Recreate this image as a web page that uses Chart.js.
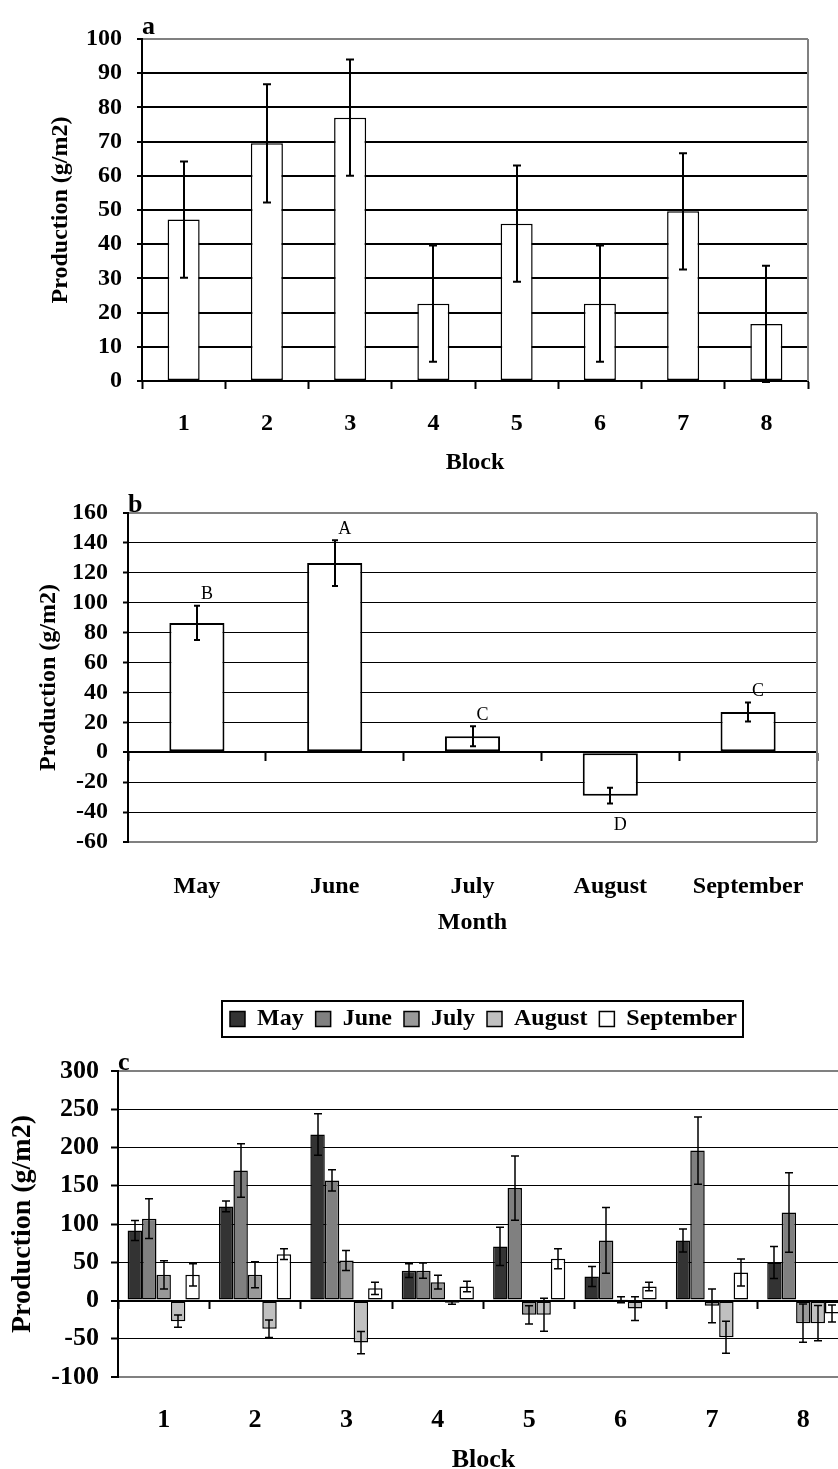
<!DOCTYPE html>
<html>
<head>
<meta charset="utf-8">
<script src="https://cdn.jsdelivr.net/npm/chart.js@4.4.1/dist/chart.umd.min.js"></script>
<style>
  html, body { margin: 0; padding: 0; background: #fff; }
  body { width: 838px; height: 1469px; overflow: hidden; position: relative; }
  canvas { position: absolute; left: 0; }
  #chartA { top: 0; }
  #chartB { top: 480px; }
  #chartC { top: 960px; }
</style>
</head>
<body>
<canvas id="chartA" width="838" height="480"></canvas>
<canvas id="chartB" width="838" height="460"></canvas>
<canvas id="chartC" width="880" height="520"></canvas>
<script>
// ---- Panel a: production per block ----
const blocks = ['1', '2', '3', '4', '5', '6', '7', '8'];
const blockMeans = [47.2, 69.5, 77, 22.6, 46, 22.6, 49.6, 16.7];
const blockErrors = [17, 17.3, 17, 17, 17, 17, 17, 17];
const ticksA = [0, 10, 20, 30, 40, 50, 60, 70, 80, 90, 100];

// ---- Panel b: production per month ----
const months = ['May', 'June', 'July', 'August', 'September'];
const monthMeans = [86.5, 126.5, 10.7, -29, 26.9];
const monthErrors = [11.5, 15.3, 6.7, 5.3, 6.4];
const monthGroups = ['B', 'A', 'C', 'D', 'C'];
const ticksB = [-60, -40, -20, 0, 20, 40, 60, 80, 100, 120, 140, 160];

// ---- Panel c: production per block and month ----
const mayValues = [91.5, 123, 217, 39, 70.6, 31.4, 78.5, 49.7];
const mayErrors = [13, 7, 27, 9, 25, 13, 15, 21];
const juneValues = [107, 170, 157, 39, 147, 78.5, 196, 115];
const juneErrors = [26, 35, 14, 10, 42, 43, 44, 52];
const julyValues = [33.6, 33.6, 52.3, 24, -18.7, 1, -7, -29.6];
const julyErrors = [18.5, 17, 13, 9, 12, 4, 22, 25];
const augustValues = [-27, -37, -55, -3, -18.7, -10.5, -48, -29.6];
const augustErrors = [8, 11.5, 14.5, 2, 21.5, 15.5, 21, 23];
const septemberValues = [33.6, 60.6, 16, 18.3, 54.5, 18.3, 36.6, -17];
const septemberErrors = [14.6, 7, 8, 7, 13, 5.5, 17.5, 11];
const ticksC = [-100, -50, 0, 50, 100, 150, 200, 250, 300];

const FONT = "'Liberation Serif', 'Times New Roman', serif";
const GRAY = '#808080';
Chart.defaults.font.family = FONT;
Chart.defaults.color = '#000';

const boldFont = (size, lineHeight) => ({ family: FONT, size, weight: 'bold', lineHeight: lineHeight || 1.2 });
const useTicks = list => scale => { scale.ticks = list.map(v => ({ value: v })); };

// vertical error bars with caps, centred on every bar
const errorBars = {
  id: 'errorBars',
  afterDatasetsDraw(chart, args, opts) {
    const { ctx } = chart;
    const yScale = chart.scales.y;
    ctx.save();
    ctx.strokeStyle = '#000';
    ctx.lineWidth = opts.lineWidth;
    chart.data.datasets.forEach((ds, i) => {
      chart.getDatasetMeta(i).data.forEach((bar, j) => {
        const v = ds.data[j], e = ds.errors[j];
        const x = Math.round(bar.x);
        const yHi = yScale.getPixelForValue(v + e);
        const yLo = yScale.getPixelForValue(v - e);
        ctx.beginPath();
        ctx.moveTo(x, yHi); ctx.lineTo(x, yLo);
        ctx.moveTo(x - opts.cap, yHi); ctx.lineTo(x + opts.cap, yHi);
        ctx.moveTo(x - opts.cap, yLo); ctx.lineTo(x + opts.cap, yLo);
        ctx.stroke();
      });
    });
    ctx.restore();
  }
};

// grey right-hand edge of the plot area
const plotFrame = {
  id: 'plotFrame',
  beforeDatasetsDraw(chart) {
    const { ctx, chartArea: a } = chart;
    ctx.save();
    ctx.strokeStyle = GRAY;
    ctx.lineWidth = 2;
    ctx.beginPath();
    ctx.moveTo(a.right, a.top);
    ctx.lineTo(a.right, a.bottom);
    ctx.stroke();
    ctx.restore();
  }
};

// significance letters next to each monthly error bar
const groupLetters = {
  id: 'groupLetters',
  afterDatasetsDraw(chart, args, opts) {
    const { ctx } = chart;
    const yScale = chart.scales.y;
    const ds = chart.data.datasets[0];
    ctx.save();
    ctx.font = `18px ${FONT}`;
    ctx.fillStyle = '#000';
    ctx.textAlign = 'center';
    ctx.textBaseline = 'middle';
    chart.getDatasetMeta(0).data.forEach((bar, j) => {
      const v = ds.data[j], e = ds.errors[j];
      const y = v >= 0 ? yScale.getPixelForValue(v + e) - opts.above
                       : yScale.getPixelForValue(v - e) + opts.below;
      ctx.fillText(opts.letters[j], bar.x + opts.dx, y);
    });
    ctx.restore();
  }
};

// black frame around the legend entries
const legendFrame = {
  id: 'legendFrame',
  afterDraw(chart) {
    const lg = chart.legend;
    if (!lg || !lg.legendHitBoxes || !lg.legendHitBoxes.length) return;
    const hb = lg.legendHitBoxes;
    const left = Math.min(...hb.map(b => b.left));
    const right = Math.max(...hb.map(b => b.left + b.width));
    const top = hb[0].top, h = hb[0].height;
    const { ctx } = chart;
    ctx.save();
    ctx.strokeStyle = '#000';
    ctx.lineWidth = 2;
    ctx.strokeRect(Math.round(left - 8), Math.round(top - 6), Math.round(right - left + 14), Math.round(h + 12));
    ctx.restore();
  }
};

function panelTitle(text, pad, weight) {
  return {
    display: true, text, align: 'start', fullSize: false, weight: weight || 2000,
    color: '#000', font: boldFont(26, '16px'), padding: pad
  };
}

function zeroAxis(labels, tickLength) {
  return {
    axis: 'x', type: 'category', labels, position: { y: 0 }, offset: true,
    grid: { offset: true, drawOnChartArea: false, drawTicks: true, tickLength, tickWidth: 2, tickColor: '#000' },
    ticks: { display: false, autoSkip: false },
    border: { display: true, color: '#000', width: 2 }
  };
}

// ---------- Panel a ----------
new Chart(document.getElementById('chartA'), {
  type: 'bar',
  data: {
    labels: blocks,
    datasets: [{
      data: blockMeans, errors: blockErrors,
      backgroundColor: '#fff', borderColor: '#000', borderWidth: 1.5, borderSkipped: false,
      categoryPercentage: 1, barPercentage: 0.385
    }]
  },
  options: {
    responsive: false, animation: false, devicePixelRatio: 1,
    layout: { padding: { top: 19, right: 30, left: 0, bottom: 0 } },
    plugins: {
      legend: { display: false }, tooltip: { enabled: false },
      title: panelTitle('a', { top: 0, bottom: 4 }),
      errorBars: { lineWidth: 2, cap: 4 }
    },
    scales: {
      x: {
        offset: true,
        grid: { offset: true, drawOnChartArea: false, drawTicks: true, tickLength: 8, tickWidth: 2, tickColor: '#000' },
        border: { color: '#000', width: 2 },
        ticks: { font: boldFont(24), color: '#000', padding: 20.6, autoSkip: false },
        title: { display: true, text: 'Block', font: boldFont(24), color: '#000', padding: { top: 0, bottom: 2.6 } },
        afterFit: s => { s.height = 99; }
      },
      y: {
        min: 0, max: 100,
        afterBuildTicks: useTicks(ticksA),
        grid: {
          color: c => (c.tick && c.tick.value === 100 ? GRAY : '#000'),
          lineWidth: 2, tickLength: 5, tickWidth: 2, tickColor: '#000'
        },
        border: { color: '#000', width: 2 },
        ticks: { font: boldFont(24), color: '#000', padding: 15, autoSkip: false },
        title: { display: true, text: 'Production (g/m2)', font: boldFont(24), color: '#000', padding: { top: 46.6, bottom: 0 } },
        afterFit: s => { s.width = 142; }
      }
    }
  },
  plugins: [plotFrame, errorBars]
});

// ---------- Panel b ----------
new Chart(document.getElementById('chartB'), {
  type: 'bar',
  data: {
    labels: months,
    datasets: [{
      data: monthMeans, errors: monthErrors,
      backgroundColor: '#fff', borderColor: '#000', borderWidth: 2, borderSkipped: false,
      categoryPercentage: 1, barPercentage: 0.4
    }]
  },
  options: {
    responsive: false, animation: false, devicePixelRatio: 1,
    layout: { padding: { top: 17, right: 21, left: 0, bottom: 0 } },
    plugins: {
      legend: { display: false }, tooltip: { enabled: false },
      title: panelTitle('b', { top: 0, bottom: 0 }),
      errorBars: { lineWidth: 2, cap: 3 },
      groupLetters: { letters: monthGroups, dx: 10, above: 11, below: 22 }
    },
    scales: {
      x: {
        offset: true,
        grid: { display: false },
        border: { display: false },
        ticks: { font: boldFont(24), color: '#000', padding: 22.6, autoSkip: false },
        title: { display: true, text: 'Month', font: boldFont(24), color: '#000', padding: { top: 0, bottom: 2.6 } },
        afterFit: s => { s.height = 98; }
      },
      x2: zeroAxis(months, 8),
      y: {
        min: -60, max: 160,
        afterBuildTicks: useTicks(ticksB),
        grid: {
          color: c => (c.tick && (c.tick.value === 160 || c.tick.value === -60) ? GRAY : '#000'),
          lineWidth: c => (c.tick && [160, -60, 0].includes(c.tick.value) ? 2 : 1),
          tickLength: 5, tickWidth: 2, tickColor: '#000'
        },
        border: { color: '#000', width: 2 },
        ticks: { font: boldFont(24), color: '#000', padding: 15, autoSkip: false },
        title: { display: true, text: 'Production (g/m2)', font: boldFont(24), color: '#000', padding: { top: 34.6, bottom: 0 } },
        afterFit: s => { s.width = 128; }
      }
    }
  },
  plugins: [plotFrame, errorBars, groupLetters]
});

// ---------- Panel c ----------
const seriesC = [
  { label: 'May', data: mayValues, errors: mayErrors, color: '#333333' },
  { label: 'June', data: juneValues, errors: juneErrors, color: '#808080' },
  { label: 'July', data: julyValues, errors: julyErrors, color: '#999999' },
  { label: 'August', data: augustValues, errors: augustErrors, color: '#c0c0c0' },
  { label: 'September', data: septemberValues, errors: septemberErrors, color: '#ffffff' }
];

new Chart(document.getElementById('chartC'), {
  type: 'bar',
  data: {
    labels: blocks,
    datasets: seriesC.map(s => ({
      label: s.label, data: s.data, errors: s.errors,
      backgroundColor: s.color, borderColor: '#000', borderWidth: 1.5, borderSkipped: false,
      categoryPercentage: 0.79, barPercentage: 1
    }))
  },
  options: {
    responsive: false, animation: false, devicePixelRatio: 1,
    layout: { padding: { top: 35, right: 31, left: 0, bottom: 0 } },
    plugins: {
      tooltip: { enabled: false },
      legend: {
        display: true, position: 'top', align: 'center', fullSize: false,
        labels: { boxWidth: 15, boxHeight: 15, padding: 12, font: boldFont(24), color: '#000' }
      },
      title: panelTitle('c', { top: 14, bottom: 0 }, 500),
      errorBars: { lineWidth: 1.5, cap: 4 }
    },
    scales: {
      x: {
        offset: true,
        grid: { display: false },
        border: { display: false },
        ticks: { font: boldFont(26), color: '#000', padding: 19.4, autoSkip: false },
        title: { display: true, text: 'Block', font: boldFont(26), color: '#000', padding: { top: 0, bottom: 4.4 } },
        afterFit: s => { s.height = 103; }
      },
      x2: zeroAxis(blocks, 7),
      y: {
        min: -100, max: 300,
        afterBuildTicks: useTicks(ticksC),
        grid: {
          color: c => (c.tick && (c.tick.value === 300 || c.tick.value === -100) ? GRAY : '#000'),
          lineWidth: c => (c.tick && [300, -100, 0].includes(c.tick.value) ? 2 : 1),
          tickLength: 7, tickWidth: 2, tickColor: '#000'
        },
        border: { color: '#000', width: 2 },
        ticks: { font: boldFont(26), color: '#000', padding: 12, autoSkip: false },
        title: { display: true, text: 'Production (g/m2)', font: boldFont(28), color: '#000', padding: { top: 6.2, bottom: 0 } },
        afterFit: s => { s.width = 118; }
      }
    }
  },
  plugins: [plotFrame, errorBars, legendFrame]
});
</script>
</body>
</html>
